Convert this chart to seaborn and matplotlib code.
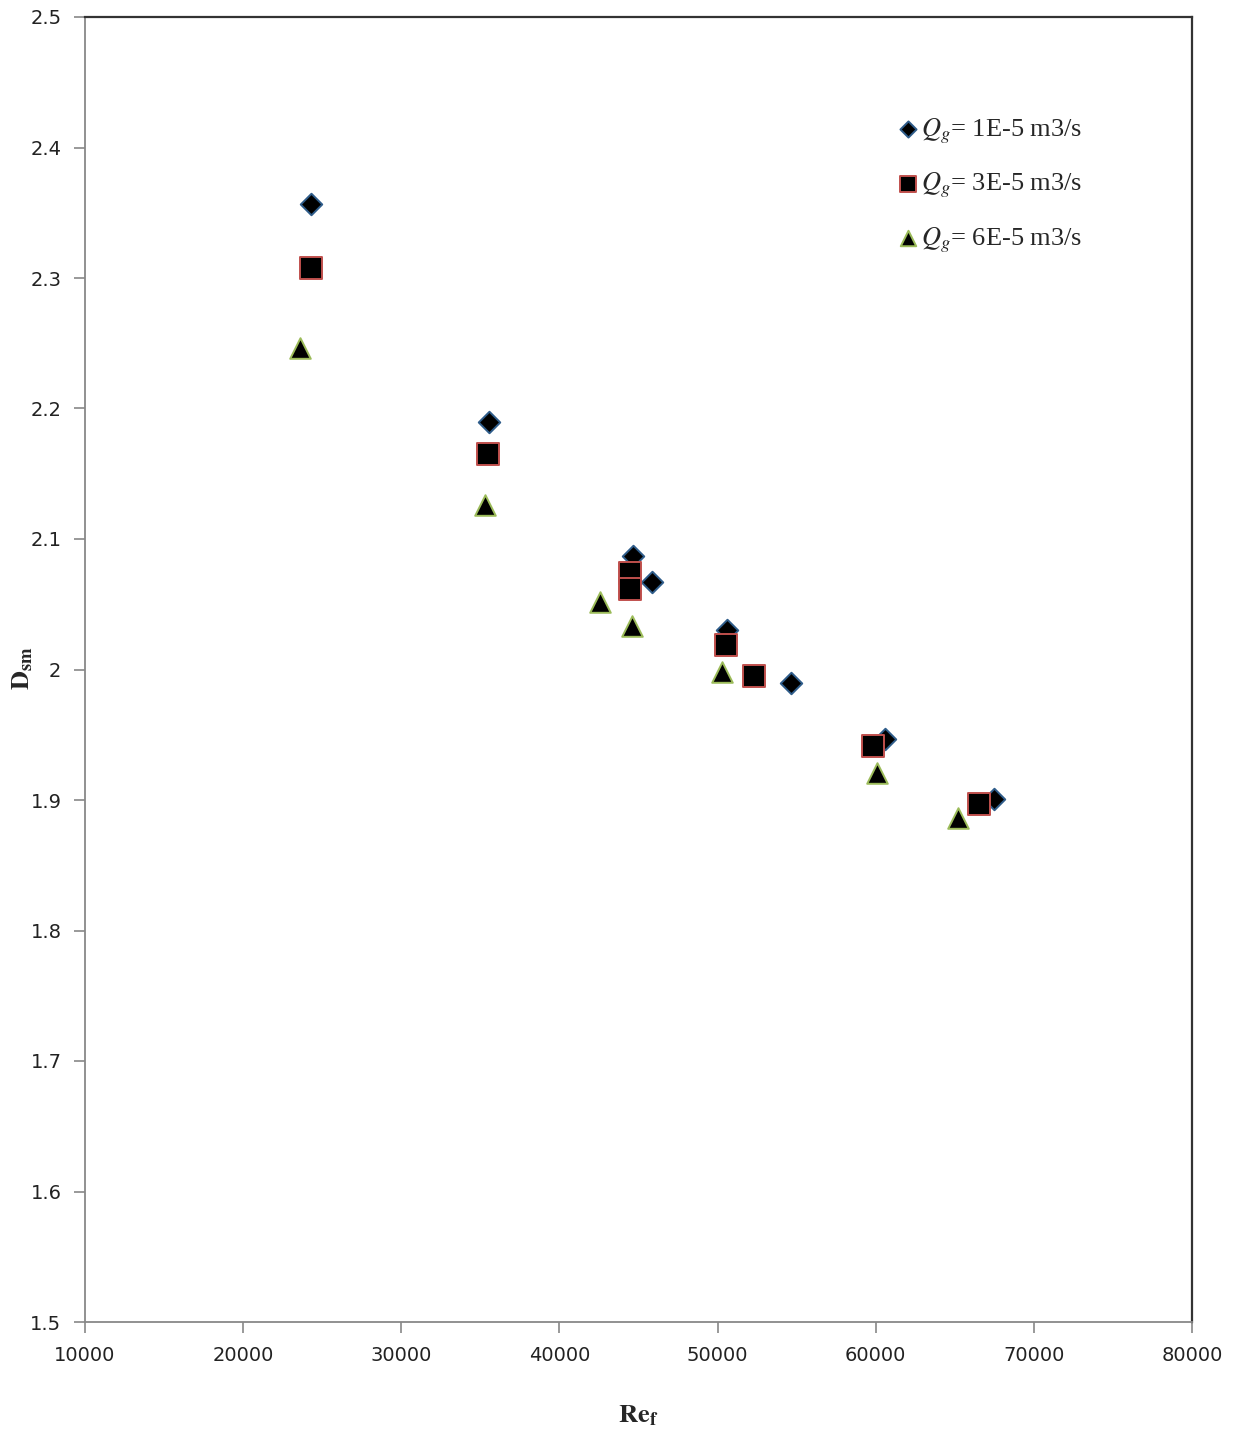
import matplotlib
matplotlib.use("Agg")
import matplotlib.pyplot as plt
import seaborn as sns
import pandas as pd

# Re_f and D_sm for three gas flow rates
re_q1 = [24300, 35550, 44650, 45850, 50600, 54650, 60600, 67500]
dsm_q1 = [2.357, 2.190, 2.087, 2.067, 2.030, 1.990, 1.947, 1.901]

re_q3 = [24300, 35500, 44450, 44450, 50550, 52300, 59850, 66550]
dsm_q3 = [2.308, 2.165, 2.074, 2.062, 2.019, 1.995, 1.941, 1.897]

re_q6 = [23600, 35300, 42550, 44600, 50250, 60050, 65200]
dsm_q6 = [2.246, 2.126, 2.052, 2.033, 1.998, 1.921, 1.886]

labels = [r"$Q_g$= 1E-5 m3/s", r"$Q_g$= 3E-5 m3/s", r"$Q_g$= 6E-5 m3/s"]

xticks = [10000, 20000, 30000, 40000, 50000, 60000, 70000, 80000]
yticks = [1.5, 1.6, 1.7, 1.8, 1.9, 2.0, 2.1, 2.2, 2.3, 2.4, 2.5]
ytick_labels = ["1.5", "1.6", "1.7", "1.8", "1.9", "2", "2.1", "2.2", "2.3", "2.4", "2.5"]

sns.set_style("white")
plt.rcParams["font.family"] = ["DejaVu Sans"]
plt.rcParams["mathtext.fontset"] = "stix"

fig = plt.figure(figsize=(12.39, 14.33), dpi=100)
ax = fig.add_axes([85 / 1239, 1 - 1322 / 1433, (1192 - 85) / 1239, (1322 - 17) / 1433])

series = [
    (re_q1, dsm_q1, labels[0], "D", 120, "#2E5C8A"),
    (re_q3, dsm_q3, labels[1], "s", 250, "#C0504D"),
    (re_q6, dsm_q6, labels[2], "^", 220, "#9BBB59"),
]
for xs, ys, lab, mk, size, ec in series:
    df = pd.DataFrame({"Re": xs, "Dsm": ys})
    sns.scatterplot(data=df, x="Re", y="Dsm", ax=ax, marker=mk, s=size,
                    color="black", edgecolor=ec, linewidth=1.4, label=lab,
                    zorder=3)

ax.set_xlim(10000, 80000)
ax.set_ylim(1.5, 2.5)
ax.set_xticks(xticks)
ax.set_xticklabels([str(v) for v in xticks])
ax.set_yticks(yticks)
ax.set_yticklabels(ytick_labels)
ax.tick_params(axis="both", which="major", direction="out", length=8,
               width=1.2, color="#888888", labelsize=14, labelcolor="#222222",
               pad=9, left=True, bottom=True)

for side in ("left", "bottom"):
    ax.spines[side].set_color("#888888")
    ax.spines[side].set_linewidth(1.3)
for side in ("top", "right"):
    ax.spines[side].set_color("#333333")
    ax.spines[side].set_linewidth(1.6)

ax.set_xlabel(r"$\mathbf{Re_f}$", fontsize=19, va="center")
ax.set_ylabel(r"$\mathbf{D_{sm}}$", fontsize=19, va="center")
# label centres placed in axes coordinates
ax.xaxis.set_label_coords((638 - 85) / 1107, -(1415 - 1322) / 1305)
ax.yaxis.set_label_coords(-(85 - 22) / 1107, (1322 - 668) / 1305)

leg = ax.legend(loc="upper left", bbox_to_anchor=(0.71, 0.942), frameon=False,
                fontsize=19, markerscale=0.75, handletextpad=0.0,
                labelspacing=0.95, handlelength=1.0)
for t in leg.get_texts():
    t.set_family("Liberation Serif")

fig.savefig("out.png", dpi=100)
